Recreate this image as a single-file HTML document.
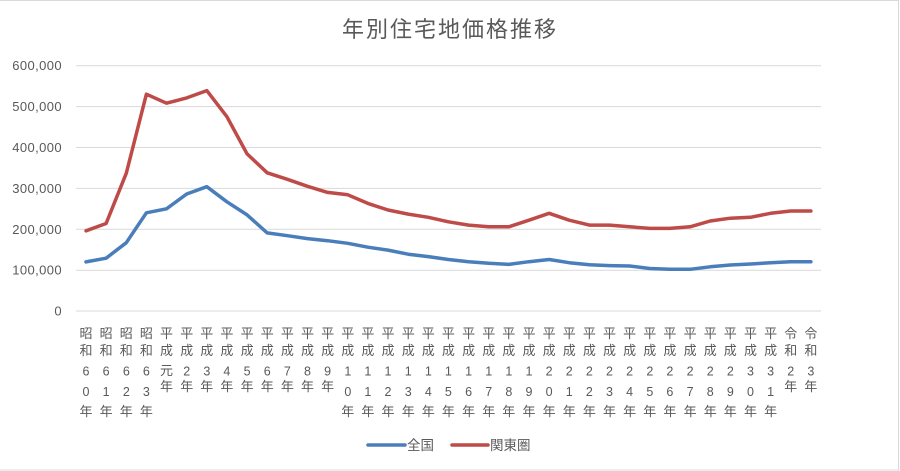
<!DOCTYPE html>
<html><head><meta charset="utf-8"><style>
html,body{margin:0;padding:0;background:#fff;}
svg{display:block;}
.t{font-family:"Liberation Sans","Noto Sans CJK JP",sans-serif;fill:#595959;}
.lb{font-size:13px;text-anchor:middle;}
.lb tspan.d{font-size:12.5px;}
.ya{font-size:13px;text-anchor:end;letter-spacing:0.4px;}
</style></head><body>
<svg width="900" height="471" viewBox="0 0 900 471" xmlns="http://www.w3.org/2000/svg">
<rect x="0" y="0" width="900" height="471" fill="#fff"/>
<g stroke="#d9d9d9" stroke-width="1" fill="none">
<line x1="0" y1="0.5" x2="899" y2="0.5"/>
<line x1="898.5" y1="0" x2="898.5" y2="471"/>
<line x1="0" y1="470" x2="899" y2="470"/>
</g>
<text class="t" x="450" y="37" text-anchor="middle" style="font-size:22px;letter-spacing:2px;">年別住宅地価格推移</text>
<g stroke="#d9d9d9" stroke-width="1">
<line x1="76" x2="821" y1="65.7" y2="65.7"/>
<line x1="76" x2="821" y1="106.6" y2="106.6"/>
<line x1="76" x2="821" y1="147.5" y2="147.5"/>
<line x1="76" x2="821" y1="188.4" y2="188.4"/>
<line x1="76" x2="821" y1="229.3" y2="229.3"/>
<line x1="76" x2="821" y1="270.2" y2="270.2"/>
<line x1="76" x2="821" y1="311" y2="311"/>
</g>
<g class="t ya">
<text x="62" y="70.2">600,000</text>
<text x="62" y="111.1">500,000</text>
<text x="62" y="152">400,000</text>
<text x="62" y="192.9">300,000</text>
<text x="62" y="233.8">200,000</text>
<text x="62" y="274.7">100,000</text>
<text x="62" y="315.5">0</text>
</g>
<polyline fill="none" stroke="#be4b48" stroke-width="3.5" stroke-linejoin="round" stroke-linecap="round" points="86.0,230.8 106.1,223.5 126.3,173.2 146.4,94.2 166.5,103.2 186.7,97.9 206.8,90.6 226.9,116.7 247.1,153.9 267.2,172.8 287.4,179.3 307.5,186.3 327.6,192.4 347.8,194.8 367.9,203.4 388.0,210.0 408.2,214.1 428.3,217.3 448.4,221.8 468.6,225.1 488.7,226.8 508.8,226.8 529.0,220.2 549.1,213.3 569.2,220.2 589.4,225.1 609.5,225.1 629.6,226.8 649.8,228.4 669.9,228.4 690.1,226.8 710.2,221.0 730.3,218.2 750.5,217.3 770.6,213.3 790.7,211.0 810.9,211.0"/>
<polyline fill="none" stroke="#4a7ebb" stroke-width="3.5" stroke-linejoin="round" stroke-linecap="round" points="86.0,261.9 106.1,258.2 126.3,242.7 146.4,212.8 166.5,208.8 186.7,194.0 206.8,186.7 226.9,201.8 247.1,214.9 267.2,232.9 287.4,235.7 307.5,238.6 327.6,240.7 347.8,243.3 367.9,247.2 388.0,250.1 408.2,254.2 428.3,256.6 448.4,259.5 468.6,261.7 488.7,263.3 508.8,264.4 529.0,261.7 549.1,259.5 569.2,262.7 589.4,264.8 609.5,265.6 629.6,266.0 649.8,268.5 669.9,269.3 690.1,269.3 710.2,266.8 730.3,265.0 750.5,264.0 770.6,262.7 790.7,261.7 810.9,261.7"/>
<g class="t lb">
<text><tspan x="86" y="338">昭</tspan><tspan x="86" y="355">和</tspan><tspan class="d" x="86" y="375.5">6</tspan><tspan class="d" x="86" y="396">0</tspan><tspan x="86" y="416">年</tspan></text>
<text><tspan x="106.1" y="338">昭</tspan><tspan x="106.1" y="355">和</tspan><tspan class="d" x="106.1" y="375.5">6</tspan><tspan class="d" x="106.1" y="396">1</tspan><tspan x="106.1" y="416">年</tspan></text>
<text><tspan x="126.3" y="338">昭</tspan><tspan x="126.3" y="355">和</tspan><tspan class="d" x="126.3" y="375.5">6</tspan><tspan class="d" x="126.3" y="396">2</tspan><tspan x="126.3" y="416">年</tspan></text>
<text><tspan x="146.4" y="338">昭</tspan><tspan x="146.4" y="355">和</tspan><tspan class="d" x="146.4" y="375.5">6</tspan><tspan class="d" x="146.4" y="396">3</tspan><tspan x="146.4" y="416">年</tspan></text>
<text><tspan x="166.5" y="338">平</tspan><tspan x="166.5" y="355">成</tspan><tspan x="166.5" y="375">元</tspan><tspan x="166.5" y="391">年</tspan></text>
<text><tspan x="186.7" y="338">平</tspan><tspan x="186.7" y="355">成</tspan><tspan class="d" x="186.7" y="375.5">2</tspan><tspan x="186.7" y="391">年</tspan></text>
<text><tspan x="206.8" y="338">平</tspan><tspan x="206.8" y="355">成</tspan><tspan class="d" x="206.8" y="375.5">3</tspan><tspan x="206.8" y="391">年</tspan></text>
<text><tspan x="226.9" y="338">平</tspan><tspan x="226.9" y="355">成</tspan><tspan class="d" x="226.9" y="375.5">4</tspan><tspan x="226.9" y="391">年</tspan></text>
<text><tspan x="247.1" y="338">平</tspan><tspan x="247.1" y="355">成</tspan><tspan class="d" x="247.1" y="375.5">5</tspan><tspan x="247.1" y="391">年</tspan></text>
<text><tspan x="267.2" y="338">平</tspan><tspan x="267.2" y="355">成</tspan><tspan class="d" x="267.2" y="375.5">6</tspan><tspan x="267.2" y="391">年</tspan></text>
<text><tspan x="287.4" y="338">平</tspan><tspan x="287.4" y="355">成</tspan><tspan class="d" x="287.4" y="375.5">7</tspan><tspan x="287.4" y="391">年</tspan></text>
<text><tspan x="307.5" y="338">平</tspan><tspan x="307.5" y="355">成</tspan><tspan class="d" x="307.5" y="375.5">8</tspan><tspan x="307.5" y="391">年</tspan></text>
<text><tspan x="327.6" y="338">平</tspan><tspan x="327.6" y="355">成</tspan><tspan class="d" x="327.6" y="375.5">9</tspan><tspan x="327.6" y="391">年</tspan></text>
<text><tspan x="347.8" y="338">平</tspan><tspan x="347.8" y="355">成</tspan><tspan class="d" x="347.8" y="375.5">1</tspan><tspan class="d" x="347.8" y="396">0</tspan><tspan x="347.8" y="416">年</tspan></text>
<text><tspan x="367.9" y="338">平</tspan><tspan x="367.9" y="355">成</tspan><tspan class="d" x="367.9" y="375.5">1</tspan><tspan class="d" x="367.9" y="396">1</tspan><tspan x="367.9" y="416">年</tspan></text>
<text><tspan x="388.0" y="338">平</tspan><tspan x="388.0" y="355">成</tspan><tspan class="d" x="388.0" y="375.5">1</tspan><tspan class="d" x="388.0" y="396">2</tspan><tspan x="388.0" y="416">年</tspan></text>
<text><tspan x="408.2" y="338">平</tspan><tspan x="408.2" y="355">成</tspan><tspan class="d" x="408.2" y="375.5">1</tspan><tspan class="d" x="408.2" y="396">3</tspan><tspan x="408.2" y="416">年</tspan></text>
<text><tspan x="428.3" y="338">平</tspan><tspan x="428.3" y="355">成</tspan><tspan class="d" x="428.3" y="375.5">1</tspan><tspan class="d" x="428.3" y="396">4</tspan><tspan x="428.3" y="416">年</tspan></text>
<text><tspan x="448.4" y="338">平</tspan><tspan x="448.4" y="355">成</tspan><tspan class="d" x="448.4" y="375.5">1</tspan><tspan class="d" x="448.4" y="396">5</tspan><tspan x="448.4" y="416">年</tspan></text>
<text><tspan x="468.6" y="338">平</tspan><tspan x="468.6" y="355">成</tspan><tspan class="d" x="468.6" y="375.5">1</tspan><tspan class="d" x="468.6" y="396">6</tspan><tspan x="468.6" y="416">年</tspan></text>
<text><tspan x="488.7" y="338">平</tspan><tspan x="488.7" y="355">成</tspan><tspan class="d" x="488.7" y="375.5">1</tspan><tspan class="d" x="488.7" y="396">7</tspan><tspan x="488.7" y="416">年</tspan></text>
<text><tspan x="508.8" y="338">平</tspan><tspan x="508.8" y="355">成</tspan><tspan class="d" x="508.8" y="375.5">1</tspan><tspan class="d" x="508.8" y="396">8</tspan><tspan x="508.8" y="416">年</tspan></text>
<text><tspan x="529.0" y="338">平</tspan><tspan x="529.0" y="355">成</tspan><tspan class="d" x="529.0" y="375.5">1</tspan><tspan class="d" x="529.0" y="396">9</tspan><tspan x="529.0" y="416">年</tspan></text>
<text><tspan x="549.1" y="338">平</tspan><tspan x="549.1" y="355">成</tspan><tspan class="d" x="549.1" y="375.5">2</tspan><tspan class="d" x="549.1" y="396">0</tspan><tspan x="549.1" y="416">年</tspan></text>
<text><tspan x="569.2" y="338">平</tspan><tspan x="569.2" y="355">成</tspan><tspan class="d" x="569.2" y="375.5">2</tspan><tspan class="d" x="569.2" y="396">1</tspan><tspan x="569.2" y="416">年</tspan></text>
<text><tspan x="589.4" y="338">平</tspan><tspan x="589.4" y="355">成</tspan><tspan class="d" x="589.4" y="375.5">2</tspan><tspan class="d" x="589.4" y="396">2</tspan><tspan x="589.4" y="416">年</tspan></text>
<text><tspan x="609.5" y="338">平</tspan><tspan x="609.5" y="355">成</tspan><tspan class="d" x="609.5" y="375.5">2</tspan><tspan class="d" x="609.5" y="396">3</tspan><tspan x="609.5" y="416">年</tspan></text>
<text><tspan x="629.6" y="338">平</tspan><tspan x="629.6" y="355">成</tspan><tspan class="d" x="629.6" y="375.5">2</tspan><tspan class="d" x="629.6" y="396">4</tspan><tspan x="629.6" y="416">年</tspan></text>
<text><tspan x="649.8" y="338">平</tspan><tspan x="649.8" y="355">成</tspan><tspan class="d" x="649.8" y="375.5">2</tspan><tspan class="d" x="649.8" y="396">5</tspan><tspan x="649.8" y="416">年</tspan></text>
<text><tspan x="669.9" y="338">平</tspan><tspan x="669.9" y="355">成</tspan><tspan class="d" x="669.9" y="375.5">2</tspan><tspan class="d" x="669.9" y="396">6</tspan><tspan x="669.9" y="416">年</tspan></text>
<text><tspan x="690.1" y="338">平</tspan><tspan x="690.1" y="355">成</tspan><tspan class="d" x="690.1" y="375.5">2</tspan><tspan class="d" x="690.1" y="396">7</tspan><tspan x="690.1" y="416">年</tspan></text>
<text><tspan x="710.2" y="338">平</tspan><tspan x="710.2" y="355">成</tspan><tspan class="d" x="710.2" y="375.5">2</tspan><tspan class="d" x="710.2" y="396">8</tspan><tspan x="710.2" y="416">年</tspan></text>
<text><tspan x="730.3" y="338">平</tspan><tspan x="730.3" y="355">成</tspan><tspan class="d" x="730.3" y="375.5">2</tspan><tspan class="d" x="730.3" y="396">9</tspan><tspan x="730.3" y="416">年</tspan></text>
<text><tspan x="750.5" y="338">平</tspan><tspan x="750.5" y="355">成</tspan><tspan class="d" x="750.5" y="375.5">3</tspan><tspan class="d" x="750.5" y="396">0</tspan><tspan x="750.5" y="416">年</tspan></text>
<text><tspan x="770.6" y="338">平</tspan><tspan x="770.6" y="355">成</tspan><tspan class="d" x="770.6" y="375.5">3</tspan><tspan class="d" x="770.6" y="396">1</tspan><tspan x="770.6" y="416">年</tspan></text>
<text><tspan x="790.7" y="338">令</tspan><tspan x="790.7" y="355">和</tspan><tspan class="d" x="790.7" y="375.5">2</tspan><tspan x="790.7" y="391">年</tspan></text>
<text><tspan x="810.9" y="338">令</tspan><tspan x="810.9" y="355">和</tspan><tspan class="d" x="810.9" y="375.5">3</tspan><tspan x="810.9" y="391">年</tspan></text>
</g>
<line x1="368" y1="445" x2="405" y2="445" stroke="#4a7ebb" stroke-width="3.5" stroke-linecap="round"/>
<text class="t" x="407" y="450" style="font-size:13.5px;">全国</text>
<line x1="452" y1="445" x2="488" y2="445" stroke="#be4b48" stroke-width="3.5" stroke-linecap="round"/>
<text class="t" x="490" y="450" style="font-size:13.5px;">関東圏</text>
</svg>
</body></html>
